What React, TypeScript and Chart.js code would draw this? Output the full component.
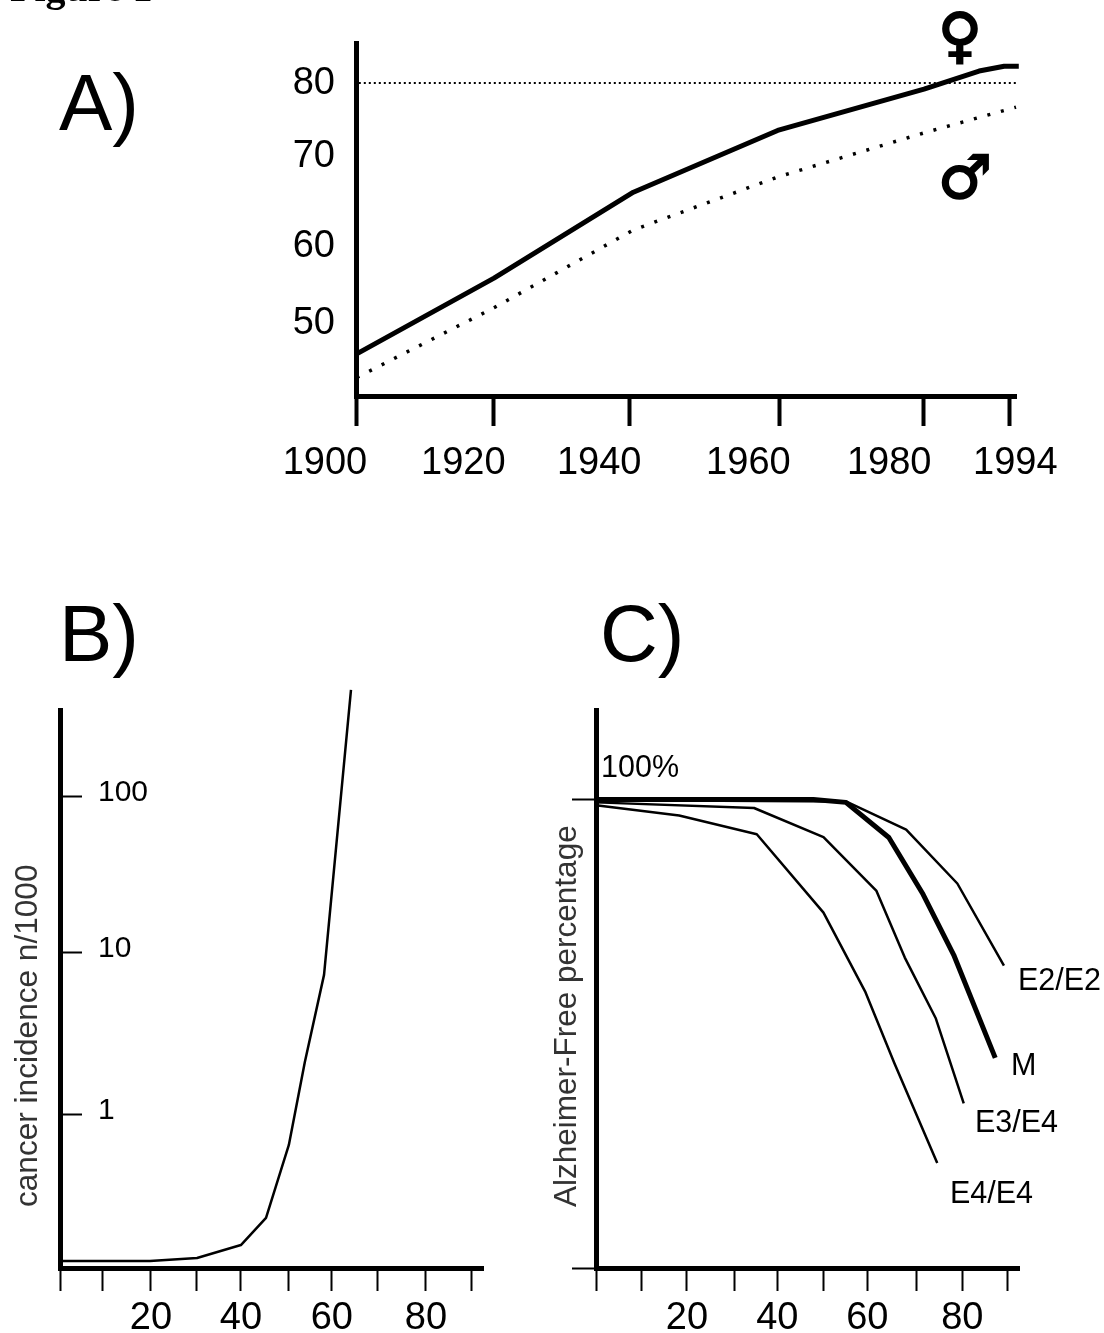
import React, { useEffect, useRef } from "react";
import { Chart, registerables } from "chart.js";

Chart.register(...registerables);

const W = 1104;
const H = 1333;
const SANS = "'Liberation Sans', Arial, sans-serif";

// Panel A
const aTickYears = [1900, 1919.8, 1939.3, 1960.7, 1981.4, 1993.8];
const aLabelYears = [1895.55, 1915.4, 1934.9, 1956.3, 1976.5, 1994.6];
const aXLabels = ["1900", "1920", "1940", "1960", "1980", "1994"];
const aYTicks = [80, 70.8, 59.6, 50];
const aYLabels = ["80", "70", "60", "50"];
const femaleYears = [1900.1, 1919.8, 1939.8, 1960.5, 1981.5, 1989.4, 1993, 1995.1];
const femaleLife = [46.25, 55.7, 66.4, 74.1, 79.25, 81.5, 82.1, 82.1];
const maleYears = [1900.1, 1919.8, 1939.8, 1960.5, 1981.5, 1994.7, 1996.9];
const maleLife = [43.3, 52.0, 61.7, 68.3, 73.8, 77.0, 78.1];
const refYears = [1900.4, 1995.1];
const refLife = [80, 80];

// Panel B
const bXTicks = [0, 9.4, 19.9, 29.8, 39.6, 50.1, 59.5, 69.6, 80.1, 90];
const bXLabels = ["", "", "20", "", "40", "", "60", "", "80", ""];
const bYTicks = [1, 10.44, 100];
const bYLabels = ["1", "10", "100"];
const cancerAge = [0, 19.7, 30, 39.6, 45.1, 50.1, 53.6, 57.8, 63.7];
const cancerRate = [0.1207, 0.1207, 0.126, 0.152, 0.225, 0.648, 2.15, 7.6, 471];

// Panel C
const cXTicks = [0, 9.9, 19.9, 30.3, 39.7, 49.8, 59.4, 70.1, 80.2, 90];
const cXLabels = ["", "", "20", "", "40", "", "60", "", "80", ""];
const cYTicks = [100, 0];
const cYLabels = ["100%", ""];
const mAge = [0, 47.6, 54.7, 64.1, 71.6, 78.3, 87.4];
const mFree = [99.9, 99.9, 99.3, 91.8, 79.7, 66.8, 44.8];
const e22Age = [0, 54.7, 67.9, 79.1, 89.3];
const e22Free = [99.8, 99.5, 93.5, 82.0, 64.5];
const e34Age = [0, 34.6, 49.8, 61.4, 67.6, 74.4, 80.5];
const e34Free = [99.3, 98.1, 91.9, 80.4, 66.2, 53.2, 35.1];
const e44Age = [0, 18.2, 35.2, 49.8, 58.9, 65.3, 74.7];
const e44Free = [98.7, 96.5, 92.5, 75.8, 59.0, 43.7, 22.4];

const zip = (xs: number[], ys: number[]) => xs.map((x, i) => ({ x, y: ys[i] }));

type Note = { text: string; x: number; y: number; font: string; color?: string; rot?: boolean; align?: CanvasTextAlign; stroke?: number };

const notes = (items: Note[]) => ({
  id: "notes",
  afterDraw(chart: any) {
    const ctx = chart.ctx;
    items.forEach((n) => {
      ctx.save();
      ctx.font = n.font;
      ctx.fillStyle = n.color || "#000";
      ctx.strokeStyle = n.color || "#000";
      ctx.textBaseline = "alphabetic";
      ctx.textAlign = n.align || "left";
      ctx.translate(n.x, n.y);
      if (n.rot) ctx.rotate(-Math.PI / 2);
      ctx.fillText(n.text, 0, 0);
      if (n.stroke) {
        ctx.lineWidth = n.stroke;
        ctx.strokeText(n.text, 0, 0);
      }
      ctx.restore();
    });
  },
});

const setTicks = (vals: number[]) => (scale: any) => {
  scale.ticks = vals.map((value) => ({ value }));
};
const labelFrom = (labels: string[]) => (_v: any, i: number) => labels[i];
const line = (data: any[], width: number, extra: any = {}) => ({
  data,
  borderColor: "#000",
  borderWidth: width,
  pointRadius: 0,
  tension: 0,
  clip: false,
  fill: false,
  borderJoinStyle: "round",
  ...extra,
});
const basePad = (l: number, t: number, r: number, b: number, axisH: number) => ({
  left: l,
  top: t,
  right: W - r,
  bottom: H - b - axisH,
});

function buildA(cv: HTMLCanvasElement) {
  return new Chart(cv, {
    type: "line",
    data: {
      datasets: [
        line(zip(refYears, refLife), 2, { borderDash: [2, 3] }),
        line(zip(maleYears, maleLife), 3.5, { borderDash: [3, 11] }),
        line(zip(femaleYears, femaleLife), 5),
      ],
    },
    options: {
      animation: false,
      responsive: false,
      events: [],
      layout: { padding: basePad(256, 43, 1016, 396, 90) },
      plugins: { legend: { display: false }, tooltip: { enabled: false }, title: { display: false } },
      scales: {
        x: {
          type: "linear",
          min: 1900,
          max: 1994.7,
          weight: 0,
          afterBuildTicks: setTicks(aTickYears),
          afterFit: (s: any) => { s.height = 30; },
          border: { display: true, width: 5, color: "#000" },
          grid: { drawOnChartArea: false, drawTicks: true, tickLength: 30, tickWidth: 4, tickColor: "#000" },
          ticks: { display: false, autoSkip: false },
        },
        xLabels: {
          type: "linear",
          axis: "x",
          position: "bottom",
          min: 1900,
          max: 1994.7,
          weight: 1,
          afterBuildTicks: setTicks(aLabelYears),
          afterFit: (s: any) => { s.height = 60; },
          border: { display: false },
          grid: { display: false },
          ticks: {
            autoSkip: false,
            maxRotation: 0,
            padding: 7,
            color: "#000",
            font: { family: SANS, size: 38 },
            callback: labelFrom(aXLabels),
          },
        },
        y: {
          type: "linear",
          min: 41,
          max: 85,
          afterBuildTicks: setTicks(aYTicks),
          afterFit: (s: any) => { s.width = 100; },
          border: { display: true, width: 5, color: "#000" },
          grid: { display: false },
          ticks: {
            autoSkip: false,
            padding: 13,
            labelOffset: 0,
            color: "#000",
            font: { family: SANS, size: 38 },
            callback: labelFrom(aYLabels),
          },
        },
      },
    } as any,
    plugins: [
      notes([
        { text: "Figure 1", x: 10, y: 1, font: `bold 40px 'Liberation Serif', serif` },
        { text: "A)", x: 59, y: 130, font: `80px ${SANS}` },
        { text: "♀", x: 960, y: 56, font: `60px 'DejaVu Sans'`, align: "center", stroke: 2 },
        { text: "♂", x: 965, y: 198, font: `60px 'DejaVu Sans'`, align: "center", stroke: 2 },
      ]),
    ],
  } as any);
}

const sparseX = (vals: number[], labels: string[]) => ({
  type: "linear",
  min: 0,
  max: 92.6,
  afterBuildTicks: setTicks(vals),
  afterFit: (s: any) => { s.height = 65; },
  border: { display: true, width: 5, color: "#000" },
  grid: { drawOnChartArea: false, drawTicks: true, tickLength: 23, tickWidth: 2, tickColor: "#000" },
  ticks: {
    autoSkip: false,
    maxRotation: 0,
    padding: 5,
    color: "#000",
    font: { family: SANS, size: 38 },
    callback: labelFrom(labels),
  },
});

function buildB(cv: HTMLCanvasElement) {
  return new Chart(cv, {
    type: "line",
    data: { datasets: [line(zip(cancerAge, cancerRate), 2.5)] },
    options: {
      animation: false,
      responsive: false,
      events: [],
      layout: { padding: basePad(60, 710, 483, 1268, 65) },
      plugins: { legend: { display: false }, tooltip: { enabled: false }, title: { display: false } },
      scales: {
        x: sparseX(bXTicks, bXLabels),
        y: {
          type: "logarithmic",
          min: 0.109,
          max: 352,
          afterBuildTicks: setTicks(bYTicks),
          afterFit: (s: any) => { s.width = 0; },
          border: { display: true, width: 5, color: "#000" },
          grid: { drawOnChartArea: false, drawTicks: true, tickLength: -22, tickWidth: 2, tickColor: "#000" },
          ticks: {
            autoSkip: false,
            mirror: true,
            padding: 38,
            labelOffset: -4,
            color: "#000",
            font: { family: SANS, size: 30 },
            callback: labelFrom(bYLabels),
          },
        },
      },
    } as any,
    plugins: [
      notes([
        { text: "B)", x: 59, y: 661, font: `80px ${SANS}` },
        { text: "cancer incidence n/1000", x: 37, y: 1207, font: `31.6px ${SANS}`, color: "#333", rot: true },
      ]),
    ],
  } as any);
}

function buildC(cv: HTMLCanvasElement) {
  return new Chart(cv, {
    type: "line",
    data: {
      datasets: [
        line(zip(e44Age, e44Free), 2.5),
        line(zip(e34Age, e34Free), 2.5),
        line(zip(e22Age, e22Free), 2.5),
        line(zip(mAge, mFree), 5),
      ],
    },
    options: {
      animation: false,
      responsive: false,
      events: [],
      layout: { padding: basePad(596, 710, 1019, 1268, 65) },
      plugins: { legend: { display: false }, tooltip: { enabled: false }, title: { display: false } },
      scales: {
        x: sparseX(cXTicks, cXLabels),
        y: {
          type: "linear",
          min: 0,
          max: 119,
          afterBuildTicks: setTicks(cYTicks),
          afterFit: (s: any) => { s.width = 0; },
          border: { display: true, width: 5, color: "#000" },
          grid: { drawOnChartArea: false, drawTicks: true, tickLength: 24, tickWidth: 2, tickColor: "#000" },
          ticks: {
            autoSkip: false,
            mirror: true,
            padding: 5,
            labelOffset: -30,
            color: "#000",
            font: { family: SANS, size: 30.5 },
            callback: labelFrom(cYLabels),
          },
        },
      },
    } as any,
    plugins: [
      notes([
        { text: "C)", x: 600, y: 661, font: `80px ${SANS}` },
        { text: "Alzheimer-Free percentage", x: 576, y: 1207, font: `31.5px ${SANS}`, color: "#333", rot: true },
        { text: "E2/E2", x: 1018, y: 990, font: `30.5px ${SANS}` },
        { text: "M", x: 1011, y: 1075, font: `30.5px ${SANS}` },
        { text: "E3/E4", x: 975, y: 1132, font: `30.5px ${SANS}` },
        { text: "E4/E4", x: 950, y: 1203, font: `30.5px ${SANS}` },
      ]),
    ],
  } as any);
}

export default function App() {
  const a = useRef<HTMLCanvasElement>(null);
  const b = useRef<HTMLCanvasElement>(null);
  const c = useRef<HTMLCanvasElement>(null);
  useEffect(() => {
    const charts = [buildA(a.current!), buildB(b.current!), buildC(c.current!)];
    return () => charts.forEach((ch) => ch.destroy());
  }, []);
  const st: React.CSSProperties = { position: "absolute", left: 0, top: 0 };
  return (
    <div style={{ position: "absolute", left: 0, top: 0, width: W, height: H, background: "#fff", overflow: "hidden" }}>
      <canvas ref={a} width={W} height={H} style={st} />
      <canvas ref={b} width={W} height={H} style={st} />
      <canvas ref={c} width={W} height={H} style={st} />
    </div>
  );
}
